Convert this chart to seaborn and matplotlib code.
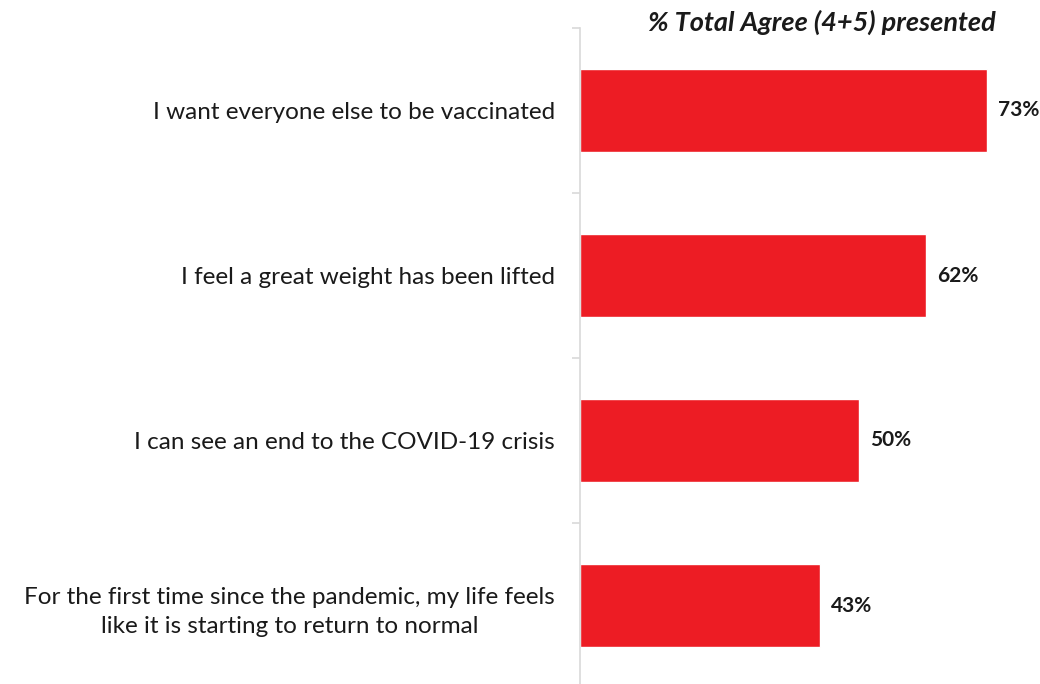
import matplotlib
matplotlib.use("Agg")
import matplotlib.pyplot as plt
import seaborn as sns
import pandas as pd
import numpy as np

# Chart data
statements = [
    "I want everyone else to be vaccinated",
    "I feel a great weight has been lifted",
    "I can see an end to the COVID-19 crisis",
    "For the first time since the pandemic, my life feels\nlike it is starting to return to normal",
]
agree_pct = [73, 62, 50, 43]
title = "% Total Agree (4+5) presented"

df = pd.DataFrame({"statement": statements, "pct": agree_pct})

sns.set_style("white")
plt.rcParams["font.family"] = ["Lato", "DejaVu Sans"]

fig = plt.figure(figsize=(10.4, 6.84), dpi=100)
# axes placed to match the reference layout (spine at ~580px)
ax = fig.add_axes([580 / 1040, -4 / 684, 460 / 1040, 660 / 684])

sns.barplot(data=df, x="pct", y="statement", color="#ED1C24",
            width=0.5, saturation=1, ax=ax, orient="h")

ax.set_xlim(0, 460 / 5.575)
ax.set_ylim(len(statements) - 0.5, -0.5)
ax.set_xlabel("")
ax.set_ylabel("")
ax.set_xticks([])

for s in ["top", "right", "bottom"]:
    ax.spines[s].set_visible(False)
ax.spines["left"].set_color("#d9d9d9")
ax.spines["left"].set_linewidth(1.2)

# labels at centres, small tick marks at the category boundaries
ax.set_yticks(range(len(statements)))
ax.set_yticklabels(statements, fontsize=17.5, color="#1a1a1a", ha="right",
                   multialignment="center", linespacing=1.5)
ax.tick_params(axis="y", which="major", left=False, length=0, pad=18)
ax.set_yticks(np.arange(-0.5, len(statements), 1.0), minor=True)
ax.tick_params(axis="y", which="minor", left=True, length=6,
               color="#d9d9d9", width=1.2)

for i, v in enumerate(agree_pct):
    ax.text(v + 2.0, i, f"{v}%", va="center", ha="left", fontsize=15,
            fontweight="bold", color="#1a1a1a")

fig.text(822 / 1040, 1 - 22 / 684, title, ha="center", va="center",
         fontsize=19.5, fontweight="bold", fontstyle="italic", color="#1a1a1a")

fig.savefig("out.png", dpi=100)
